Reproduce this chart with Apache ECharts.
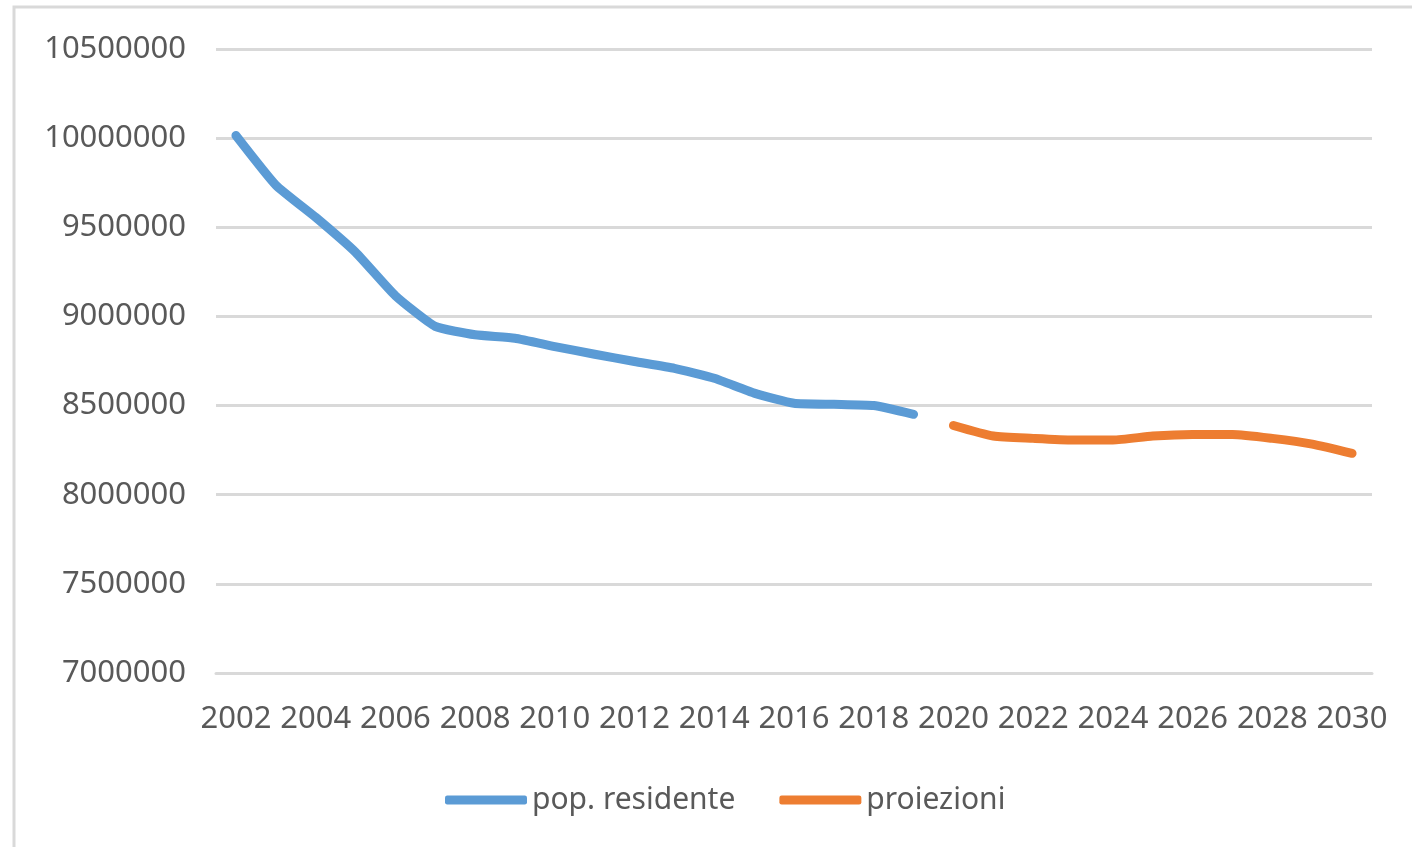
<!DOCTYPE html>
<html>
<head>
<meta charset="utf-8">
<script src="https://cdn.jsdelivr.net/npm/echarts@6/dist/echarts.min.js"></script>
<style>
html,body{margin:0;padding:0;background:#fff;}
#c{width:1412px;height:847px;}
</style>
</head>
<body>
<div id="c"></div>
<script>
const years = ['2002','2003','2004','2005','2006','2007','2008','2009','2010','2011','2012','2013','2014','2015','2016','2017','2018','2019','2020','2021','2022','2023','2024','2025','2026','2027','2028','2029','2030'];
const popYears = ['2002','2003','2004','2005','2006','2007','2008','2009','2010','2011','2012','2013','2014','2015','2016','2017','2018','2019'];
const popResidente = [10015000,9737000,9556000,9360000,9116000,8944000,8897000,8878000,8831000,8788000,8747000,8709000,8653000,8570000,8513000,8507000,8500000,8451000];
const projYears = ['2020','2021','2022','2023','2024','2025','2026','2027','2028','2029','2030'];
const proiezioni = [8388000,8329000,8316000,8307000,8307000,8329000,8338000,8338000,8316000,8284000,8232000];
const yTicks = {min:7000000, max:10500000, interval:500000};

function align(cats, vals){
  return years.map(y => { const i = cats.indexOf(y); return i >= 0 ? vals[i] : null; });
}

const chart = echarts.init(document.getElementById('c'));
const font = '"Noto Sans", "Open Sans", sans-serif';
chart.setOption({
  animation:false,
  backgroundColor:'#fff',
  graphic:[{type:'rect',shape:{x:14,y:7,width:1600,height:1200},style:{fill:'none',stroke:'#d9d9d9',lineWidth:3},silent:true}],
  grid:{left:216,right:40,top:49,bottom:174,containLabel:false},
  legend:{
    left:440, top:780,
    itemWidth:82, itemHeight:9, itemGap:44,
    icon:'roundRect',
    textStyle:{fontFamily:font,fontSize:30,color:'#595959'},
    data:['pop. residente','proiezioni']
  },
  xAxis:{
    type:'category', data:years, boundaryGap:true,
    axisLine:{show:true,lineStyle:{color:'#d9d9d9',width:3}},
    axisTick:{show:false},
    axisLabel:{interval:1,fontFamily:font,fontSize:31,color:'#595959',margin:31}
  },
  yAxis:{
    type:'value', min:yTicks.min, max:yTicks.max, interval:yTicks.interval,
    axisLine:{show:false}, axisTick:{show:false},
    splitLine:{lineStyle:{color:'#d9d9d9',width:3}},
    axisLabel:{fontFamily:font,fontSize:31,color:'#595959',margin:30,formatter:v=>String(v)}
  },
  series:[
    {name:'pop. residente',type:'line',data:align(popYears,popResidente),smooth:0.15,showSymbol:false,
     lineStyle:{color:'#5b9bd5',width:9,cap:'round',join:'round'},itemStyle:{color:'#5b9bd5'}},
    {name:'proiezioni',type:'line',data:align(projYears,proiezioni),smooth:0.2,showSymbol:false,
     lineStyle:{color:'#ed7d31',width:9,cap:'round',join:'round'},itemStyle:{color:'#ed7d31'}}
  ]
});
</script>
</body>
</html>
